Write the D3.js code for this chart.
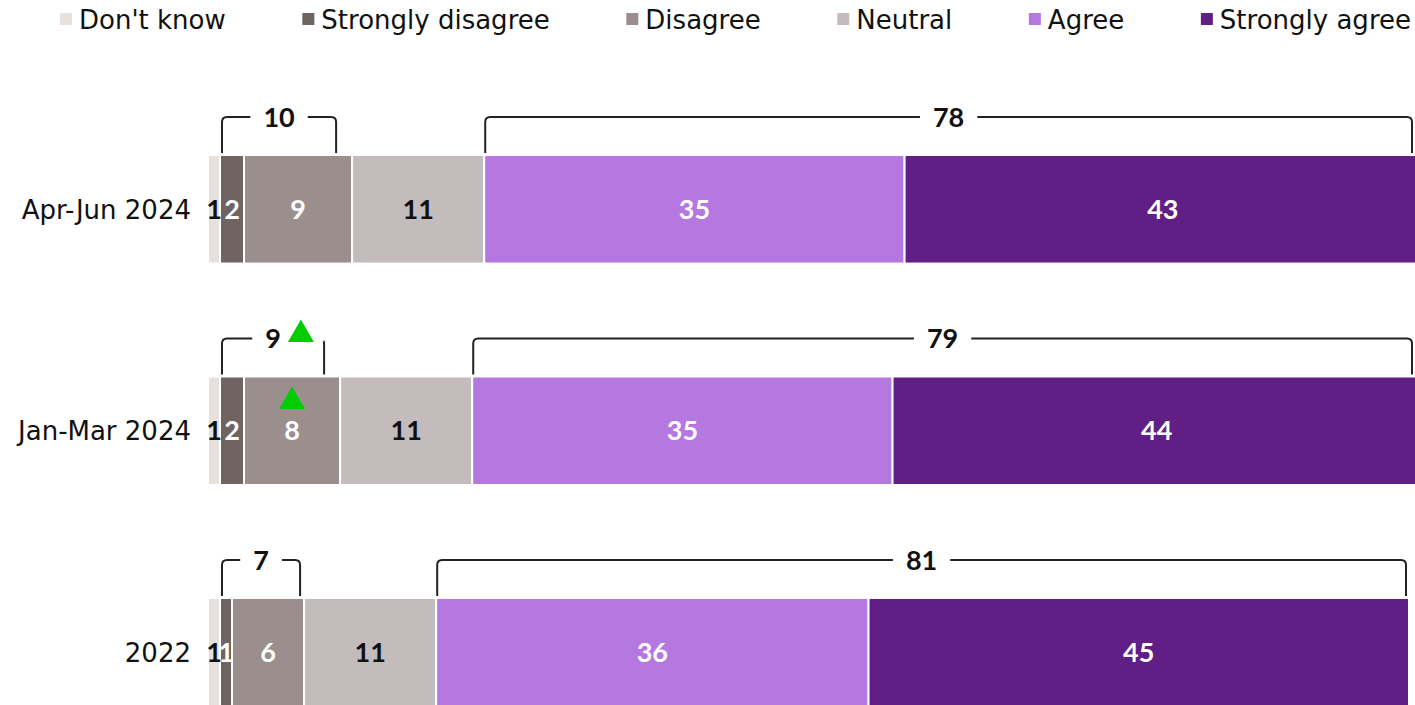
<!DOCTYPE html>
<html>
<head>
<meta charset="utf-8">
<script src="https://cdn.jsdelivr.net/npm/d3@7"></script>
<style>
  html, body { margin: 0; padding: 0; background: #fff; }
  svg { display: block; font-family: Lato, "Noto Sans", sans-serif; }
  .reg { font-family: "DejaVu Sans", "Noto Sans", sans-serif; }
</style>
</head>
<body>
<svg id="chart" width="1415" height="705"></svg>
<script>
// Survey responses by period (percent)
const periods = ["Apr-Jun 2024", "Jan-Mar 2024", "2022"];
const categories = ["Don't know", "Strongly disagree", "Disagree", "Neutral", "Agree", "Strongly agree"];
const dontKnow         = [1, 1, 1];
const stronglyDisagree = [2, 2, 1];
const disagree         = [9, 8, 6];
const neutral          = [11, 11, 11];
const agree            = [35, 35, 36];
const stronglyAgree    = [43, 44, 45];
// Net scores shown in the brackets
const netDisagree = [10, 9, 7];
const netAgree    = [78, 79, 81];
// Significant-increase markers
const upMarkers = [{ period: 1, on: "netDisagree" }, { period: 1, on: "Disagree" }];

const colors = ["#e6e1dc", "#6f6462", "#9b8f8e", "#c4bcbc", "#b577e0", "#611f86"];
const labelColors = ["#111", "#fff", "#fff", "#111", "#fff", "#fff"];

const W = 1415, H = 705;
const svg = d3.select("#chart");

const seriesValues = [dontKnow, stronglyDisagree, disagree, neutral, agree, stronglyAgree];
const rows = periods.map((p, i) => {
  const r = { period: p };
  categories.forEach((c, j) => { r[c] = seriesValues[j][i]; });
  return r;
});
const stacked = d3.stack().keys(categories)(rows);

const x = d3.scaleLinear().domain([0, 100.5]).range([208, 1415]);
const y = d3.scaleBand().domain(periods).range([155, 706.5]).paddingInner(0.51).paddingOuter(0);
const color = d3.scaleOrdinal().domain(categories).range(colors);

// Legend
const legend = svg.append("g").attr("class", "legend");
const items = legend.selectAll("g").data(categories).join("g");
items.append("rect").attr("width", 12).attr("height", 12).attr("y", 13)
  .attr("fill", d => color(d));
items.append("text").attr("class", "reg").attr("x", 19).attr("y", 29)
  .attr("font-size", 26).attr("fill", "#111").text(d => d);
const widths = [];
items.each(function () { widths.push(this.getBBox().width); });
const legStart = 60, legEnd = 1411;
const gap = (legEnd - legStart - d3.sum(widths)) / (categories.length - 1);
let cx = legStart;
items.attr("transform", (d, i) => { const t = `translate(${cx},0)`; cx += widths[i] + gap; return t; });

// Bars
const barLayer = svg.append("g");
stacked.forEach(s => {
  barLayer.selectAll(null).data(s).join("rect")
    .attr("x", d => x(d[0]))
    .attr("y", d => y(d.data.period))
    .attr("width", d => Math.max(0, x(d[1]) - x(d[0])))
    .attr("height", y.bandwidth())
    .attr("fill", color(s.key))
    .attr("stroke", "#fff").attr("stroke-width", 2);
});

// Value labels
stacked.forEach((s, j) => {
  barLayer.selectAll(null).data(s).join("text")
    .attr("x", d => (x(d[0]) + x(d[1])) / 2)
    .attr("y", d => y(d.data.period) + y.bandwidth() / 2)
    .attr("dy", "0.36em")
    .attr("text-anchor", "middle")
    .attr("font-size", 27).attr("font-weight", 700)
    .attr("fill", labelColors[j])
    .text(d => d[1] - d[0]);
});

// Period labels
svg.append("g").selectAll("text").data(periods).join("text")
  .attr("class", "reg")
  .attr("x", 191)
  .attr("y", d => y(d) + y.bandwidth() / 2)
  .attr("dy", "0.36em")
  .attr("text-anchor", "end")
  .attr("font-size", 26).attr("fill", "#111")
  .text(d => d);

// Net brackets
function bracket(parent, x0, x1, top, bottom, label, marker) {
  const g = parent.append("g");
  const r = 5;
  const mid = (x0 + x1) / 2;
  g.append("path")
    .attr("d", `M${x0},${bottom} L${x0},${top + r} Q${x0},${top} ${x0 + r},${top} L${x1 - r},${top} Q${x1},${top} ${x1},${top + r} L${x1},${bottom}`)
    .attr("fill", "none").attr("stroke", "#222").attr("stroke-width", 2);
  const bg = g.append("rect").attr("fill", "#fff");
  const t = g.append("text")
    .attr("x", mid).attr("y", top).attr("dy", "0.36em")
    .attr("text-anchor", "middle")
    .attr("font-size", 27).attr("font-weight", 700).attr("fill", "#111")
    .text(label);
  const bb = t.node().getBBox();
  let right = bb.x + bb.width;
  if (marker) right += 30;
  bg.attr("x", bb.x - 13).attr("y", top - 3)
    .attr("width", right - bb.x + 26).attr("height", 6);
  if (marker) {
    const mx = bb.x + bb.width + 20;
    g.append("path")
      .attr("d", d3.symbol(d3.symbolTriangle, 290)())
      .attr("transform", `translate(${mx},${top - 4})`)
      .attr("fill", "#00cc00");
  }
}

const bracketLayer = svg.append("g");
rows.forEach((r, i) => {
  const barTop = y(r.period);
  const top = barTop - 38;
  const bottom = barTop - 2;
  const dStart = r["Don't know"];
  const hasMarker = upMarkers.some(m => m.period === i && m.on === "netDisagree");
  bracket(bracketLayer, x(dStart) + 2, x(dStart + netDisagree[i]) - 4, top, bottom, netDisagree[i], hasMarker);
  const aStart = stacked[3][i][1];
  bracket(bracketLayer, x(aStart) + 1, Math.min(x(aStart + netAgree[i]), W) - 3, top, bottom, netAgree[i], false);
});

// Up markers inside segments
upMarkers.filter(m => m.on !== "netDisagree").forEach(m => {
  const j = categories.indexOf(m.on);
  const d = stacked[j][m.period];
  svg.append("path")
    .attr("d", d3.symbol(d3.symbolTriangle, 290)())
    .attr("transform", `translate(${(x(d[0]) + x(d[1])) / 2},${y(periods[m.period]) + 25})`)
    .attr("fill", "#00cc00");
});
</script>
</body>
</html>
